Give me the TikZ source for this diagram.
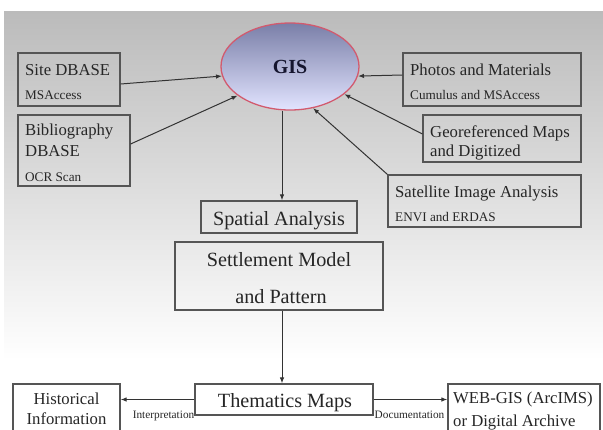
\documentclass[tikz,border=0pt]{standalone}
\usepackage{fontspec}
\setmainfont{Liberation Serif}
\usetikzlibrary{shapes.geometric,arrows.meta}
\definecolor{boxc}{HTML}{555555}
\definecolor{linec}{HTML}{333333}
\definecolor{txt}{HTML}{262626}
\definecolor{bgtop}{HTML}{BBBBBB}
\definecolor{elltop}{HTML}{7A7FA8}
\definecolor{ellbot}{HTML}{E2E4FF}
\definecolor{ellrim}{HTML}{D25A6E}
\definecolor{gistxt}{HTML}{15152E}
\newcommand\myfs[1]{\fontsize{#1}{#1}\selectfont}
\begin{document}
\begin{tikzpicture}[x=1pt,y=-1pt,
  box/.style={draw=boxc,line width=1.2pt,inner sep=0pt,rectangle},
  big/.style={font=\myfs{16.7},text=txt,inner sep=0pt},
  small/.style={font=\myfs{13.2},text=txt,inner sep=0pt},
  huge/.style={font=\myfs{20.2},text=txt,inner sep=0pt},
  tiny/.style={font=\myfs{11.3},text=txt,inner sep=0pt},
  arr/.style={draw=linec,line width=1pt,-{Latex[length=6pt,width=4.5pt]}}
]
\useasboundingbox (0,0) rectangle (603,429);
\clip (0,0) rectangle (603,429);
\shade[top color=bgtop,bottom color=white] (4,11) rectangle (603,360);

% GIS ellipse
\node[ellipse,draw=ellrim,line width=1.3pt,top color=elltop,bottom color=ellbot,
  minimum width=138pt,minimum height=87pt,inner sep=0pt,
  font=\bfseries\myfs{20},text=gistxt] (gis) at (290,66.5) {GIS};

% left boxes
\node[box,minimum width=102pt,minimum height=53pt] (site) at (69,79.5) {};
\node[big,anchor=base west] (siteA) at (25,75) {Site DBASE};
\node[small,anchor=base west] (siteB) at (25,99) {MSAccess};

\node[box,minimum width=112pt,minimum height=71pt] (bib) at (74,150.5) {};
\node[big,anchor=base west] (bibA) at (25,135) {Bibliography};
\node[big,anchor=base west] (bibB) at (25,156) {DBASE};
\node[small,anchor=base west] (bibC) at (25,181) {OCR Scan};

% right boxes
\node[box,minimum width=178pt,minimum height=53pt] (pho) at (492,79.5) {};
\node[big,anchor=base west] (phoA) at (410,75) {Photos and Materials};
\node[small,anchor=base west] (phoB) at (410,99) {Cumulus and MSAccess};

\node[box,minimum width=158pt,minimum height=47pt] (geo) at (502,138.5) {};
\node[big,anchor=base west] (geoA) at (430,137) {Georeferenced Maps};
\node[big,anchor=base west] (geoB) at (430,156) {and Digitized};

\node[box,minimum width=193pt,minimum height=52pt] (sat) at (484.5,201) {};
\node[big,anchor=base west] (satA) at (395,197) {Satellite Image Analysis};
\node[small,anchor=base west] (satB) at (395,221) {ENVI and ERDAS};

% central column
\node[box,minimum width=156pt,minimum height=32pt] (spa) at (279,217) {};
\node[huge,anchor=base] (spaA) at (279,225) {Spatial Analysis};

\node[box,minimum width=208pt,minimum height=68pt] (set) at (279,276) {};
\node[huge,anchor=base] (setA) at (279,266) {Settlement Model};
\node[huge,anchor=base] (setB) at (281,303) {and Pattern};

\node[box,fill=white,minimum width=178pt,minimum height=31pt] (the) at (284,399.5) {};
\node[huge,anchor=base] (theA) at (285,407) {Thematics Maps};

% bottom side boxes
\node[box,fill=white,minimum width=107pt,minimum height=61pt] (his) at (66.5,414.5) {};
\node[big,anchor=base] (hisA) at (66.5,404) {Historical};
\node[big,anchor=base] (hisB) at (66.5,424) {Information};

\node[box,fill=white,minimum width=152pt,minimum height=61pt] (web) at (524,414.5) {};
\node[big,anchor=base west] (webA) at (453,403) {WEB-GIS (ArcIMS)};
\node[big,anchor=base west] (webB) at (453,426) {or Digital Archive};

% connector labels
\node[tiny,anchor=base east] (interp) at (194.5,418) {Interpretation};
\node[tiny,anchor=base west] (docu) at (374.5,418) {Documentation};

% connectors into GIS
\draw[arr] ([yshift=-4.5pt]site.east) -- (gis.188);
\draw[arr] ([yshift=6.5pt]bib.east) -- (gis.209);
\draw[arr] ([yshift=4.5pt]pho.west) -- (gis.352.5);
\draw[arr] ([yshift=4.5pt]geo.west) -- (gis.333.4);
\draw[arr] (sat.north west) -- (gis.299.6);

% down flow
\draw[arr] ([xshift=-8pt]gis.south) -- ([xshift=-8pt]gis.south |- spa.north);
\draw[arr] ([xshift=3pt]set.south) -- ([xshift=3pt]set.south |- the.north);

% sideways from thematic maps
\draw[arr] (the.west) -- (the.west -| his.east);
\draw[arr] (the.east) -- (the.east -| web.west);
\end{tikzpicture}
\end{document}
